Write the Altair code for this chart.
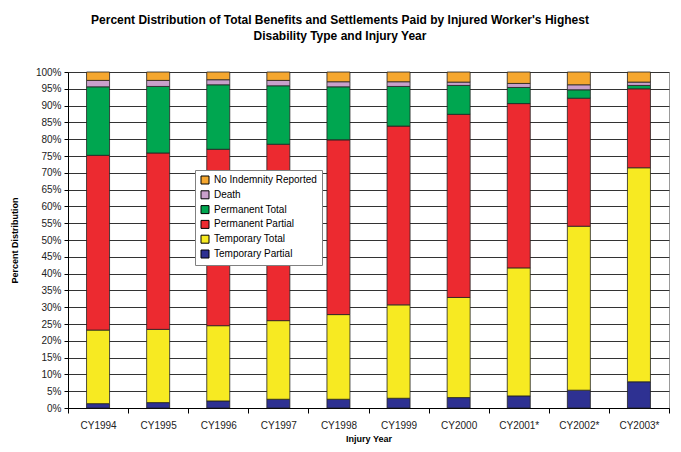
import altair as alt
import pandas as pd

years = ["CY1994", "CY1995", "CY1996", "CY1997", "CY1998", "CY1999",
         "CY2000", "CY2001*", "CY2002*", "CY2003*"]
categories = ["No Indemnity Reported", "Death", "Permanent Total",
              "Permanent Partial", "Temporary Total", "Temporary Partial"]
colors = ["#F5A72F", "#C9A0CB", "#00A650", "#EC2A30", "#F7EA22", "#2E3192"]

temporary_partial = [1.3, 1.6, 2.1, 2.6, 2.6, 2.9, 3.1, 3.6, 5.3, 7.8]
temporary_total = [21.9, 21.8, 22.4, 23.4, 25.2, 27.8, 29.8, 38.1, 48.8, 63.7]
permanent_partial = [52.0, 52.5, 52.5, 52.5, 52.0, 53.2, 54.5, 48.9, 38.1, 23.5]
permanent_total = [20.4, 19.8, 19.2, 17.4, 15.8, 11.8, 8.6, 4.8, 2.5, 1.0]
death = [1.9, 1.8, 1.5, 1.6, 1.5, 1.4, 1.0, 1.2, 1.5, 1.0]
no_indemnity = [2.5, 2.5, 2.3, 2.5, 2.9, 2.9, 3.0, 3.4, 3.8, 3.0]

series = {
    "Temporary Partial": temporary_partial,
    "Temporary Total": temporary_total,
    "Permanent Partial": permanent_partial,
    "Permanent Total": permanent_total,
    "Death": death,
    "No Indemnity Reported": no_indemnity,
}
stack_order = ["Temporary Partial", "Temporary Total", "Permanent Partial",
               "Permanent Total", "Death", "No Indemnity Reported"]

rows = []
for name, vals in series.items():
    for yr, v in zip(years, vals):
        rows.append({"year": yr, "type": name, "value": v,
                     "order": stack_order.index(name)})
df = pd.DataFrame(rows)

FONT = "Liberation Sans"

chart = alt.Chart(df).mark_bar(size=23, stroke="#222222", strokeWidth=0.8).encode(
    x=alt.X("year:N", sort=years,
            scale=alt.Scale(paddingInner=0, paddingOuter=0),
            axis=alt.Axis(title="Injury Year", labelAngle=0, tickBand="extent",
                          grid=False, domainColor="#000000", tickColor="#000000",
                          tickSize=5, labelFontSize=10, labelColor="#222222",
                          labelPadding=7, titleFontSize=9, titleFontWeight="bold",
                          titlePadding=4, titleColor="#000000")),
    y=alt.Y("value:Q", stack="zero",
            scale=alt.Scale(domain=[0, 100], nice=False),
            axis=alt.Axis(title="Percent Distribution", values=list(range(0, 101, 5)),
                          labelExpr="datum.value + '%'", grid=True,
                          gridColor="#333333", gridWidth=1,
                          domainColor="#000000", tickColor="#000000", tickSize=4,
                          labelFontSize=10, labelColor="#222222", labelPadding=3,
                          titleFontSize=9, titleFontWeight="bold", titlePadding=16,
                          titleColor="#000000")),
    color=alt.Color("type:N", sort=categories,
                    scale=alt.Scale(domain=categories, range=colors),
                    legend=alt.Legend(title=None, orient="none", legendX=127, legendY=98,
                                      symbolType="square", symbolSize=64,
                                      symbolStrokeColor="#000000", symbolStrokeWidth=1,
                                      labelFontSize=10, labelColor="#000000",
                                      rowPadding=2.8, padding=5,
                                      fillColor="#FFFFFF", strokeColor="#808080")),
    order=alt.Order("order:Q", sort="ascending"),
).properties(
    width=601, height=336,
    title=alt.TitleParams(
        text=["Percent Distribution of Total Benefits and Settlements Paid by Injured Worker's Highest",
              "Disability Type and Injury Year"],
        fontSize=12, fontWeight="bold", font=FONT, color="#000000",
        anchor="middle", frame="bounds", offset=24, lineHeight=16),
    padding={"left": 2, "top": 6, "right": 2, "bottom": 2},
).configure(font=FONT).configure_view(stroke="#999999", strokeWidth=1)

chart.save("out.html", embed_options={"renderer": "svg", "actions": False})
